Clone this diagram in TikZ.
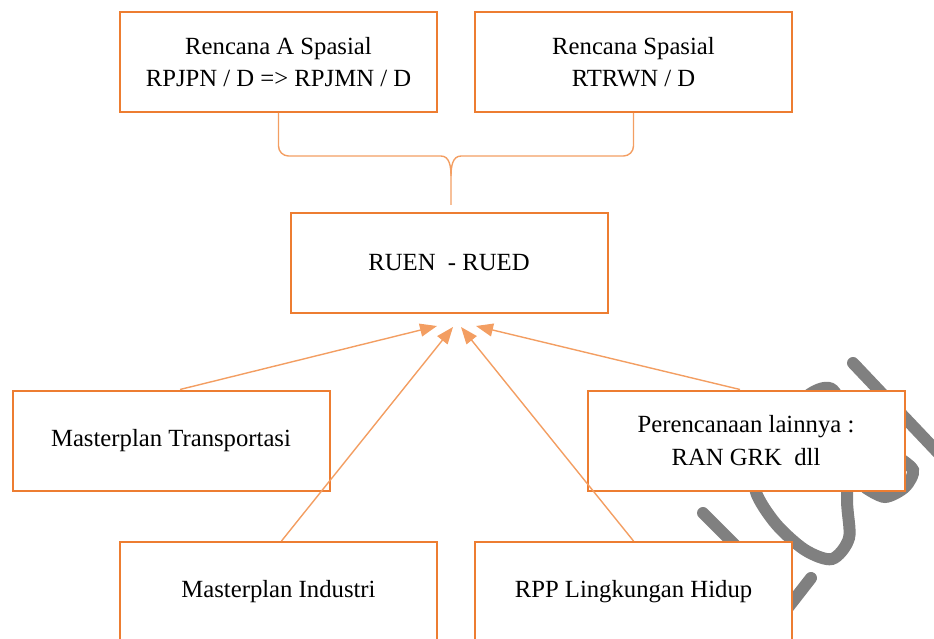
\documentclass[tikz,border=0pt]{standalone}
\usepackage{fontspec}
\setmainfont{Liberation Serif}
\usetikzlibrary{positioning,arrows.meta,calc}
\definecolor{boxorange}{RGB}{237,125,49}
\definecolor{lineorange}{RGB}{243,158,98}
\definecolor{scribblegray}{RGB}{128,128,128}

\begin{document}
\begin{tikzpicture}[
x=1pt,y=1pt,
plan/.style={draw=boxorange,line width=2pt,fill=white,minimum width=317pt,minimum height=100pt,
  align=center,inner sep=0pt,font=\fontsize{24.7}{32.5}\selectfont},
link/.style={draw=lineorange,line width=1.4pt},
scribble/.style={draw=scribblegray,line width=12pt,line cap=round},
>={Triangle[length=17pt,width=13pt]}
]

\useasboundingbox (0,0) rectangle (934,-639);

% grey pen marks behind the boxes
\draw[scribble] (853,-363) -- (962,-478);
\draw[scribble] plot[smooth cycle] coordinates {(833,-390) (810,-394) (780,-425) (760,-465) (756,-492) (776,-524) (805,-550) (832,-559) (849,-538) (847,-500) (848,-430)};
\draw[scribble] plot[smooth] coordinates {(896,-456) (913,-470) (905,-487) (885,-497) (866,-488)};
\draw[scribble] (703,-513) -- (748,-558);
\draw[scribble] (811,-578) -- (783,-614);

\node[plan] (rap) at (278.5,-62) {Rencana A Spasial\\RPJPN / D => RPJMN / D};
\node[plan,right=36pt of rap] (rs) {Rencana Spasial\\RTRWN / D};
\node[plan] (ruen) at (449,-263) {RUEN ~- RUED};
\node[plan] (mt) at (171,-440.5) {Masterplan Transportasi};
\node[plan,right=256pt of mt] (pl) {Perencanaan lainnya :\\RAN GRK ~dll};
\node[plan] (mi) at (278.5,-592) {Masterplan Industri};
\node[plan,right=36pt of mi] (rpp) {RPP Lingkungan Hidup};

% brace from the two top boxes
\coordinate (tip) at ($(ruen.north)+(2,7)$);
\coordinate (bm) at (tip |- 0,-156);
\draw[link] (rap.south) -- ++(0,-33) to[out=-90,in=180] ++(10,-10) -- ($(bm)+(-10,0)$)
  to[out=0,in=90] ($(bm)+(0,-20)$) -- (tip);
\draw[link] (rs.south) -- ++(0,-33) to[out=-90,in=0] ++(-10,-10) -- ($(bm)+(10,0)$)
  to[out=180,in=90] ($(bm)+(0,-20)$);

% arrows into RUEN
\coordinate (t1) at ($(ruen.south)+(-12,-12)$);
\coordinate (t2) at ($(ruen.south)+(4,-13)$);
\coordinate (t3) at ($(ruen.south)+(12,-13)$);
\coordinate (t4) at ($(ruen.south)+(27,-12)$);

\draw[link,->] ($(mt.north)+(9,0)$) -- (t1);
\draw[link,->] ($(mi.north)+(3,0)$) -- (t2);
\draw[link,->] (rpp.north) -- (t3);
\draw[link,->] ($(pl.north)+(-6,0)$) -- (t4);

\end{tikzpicture}
\end{document}
